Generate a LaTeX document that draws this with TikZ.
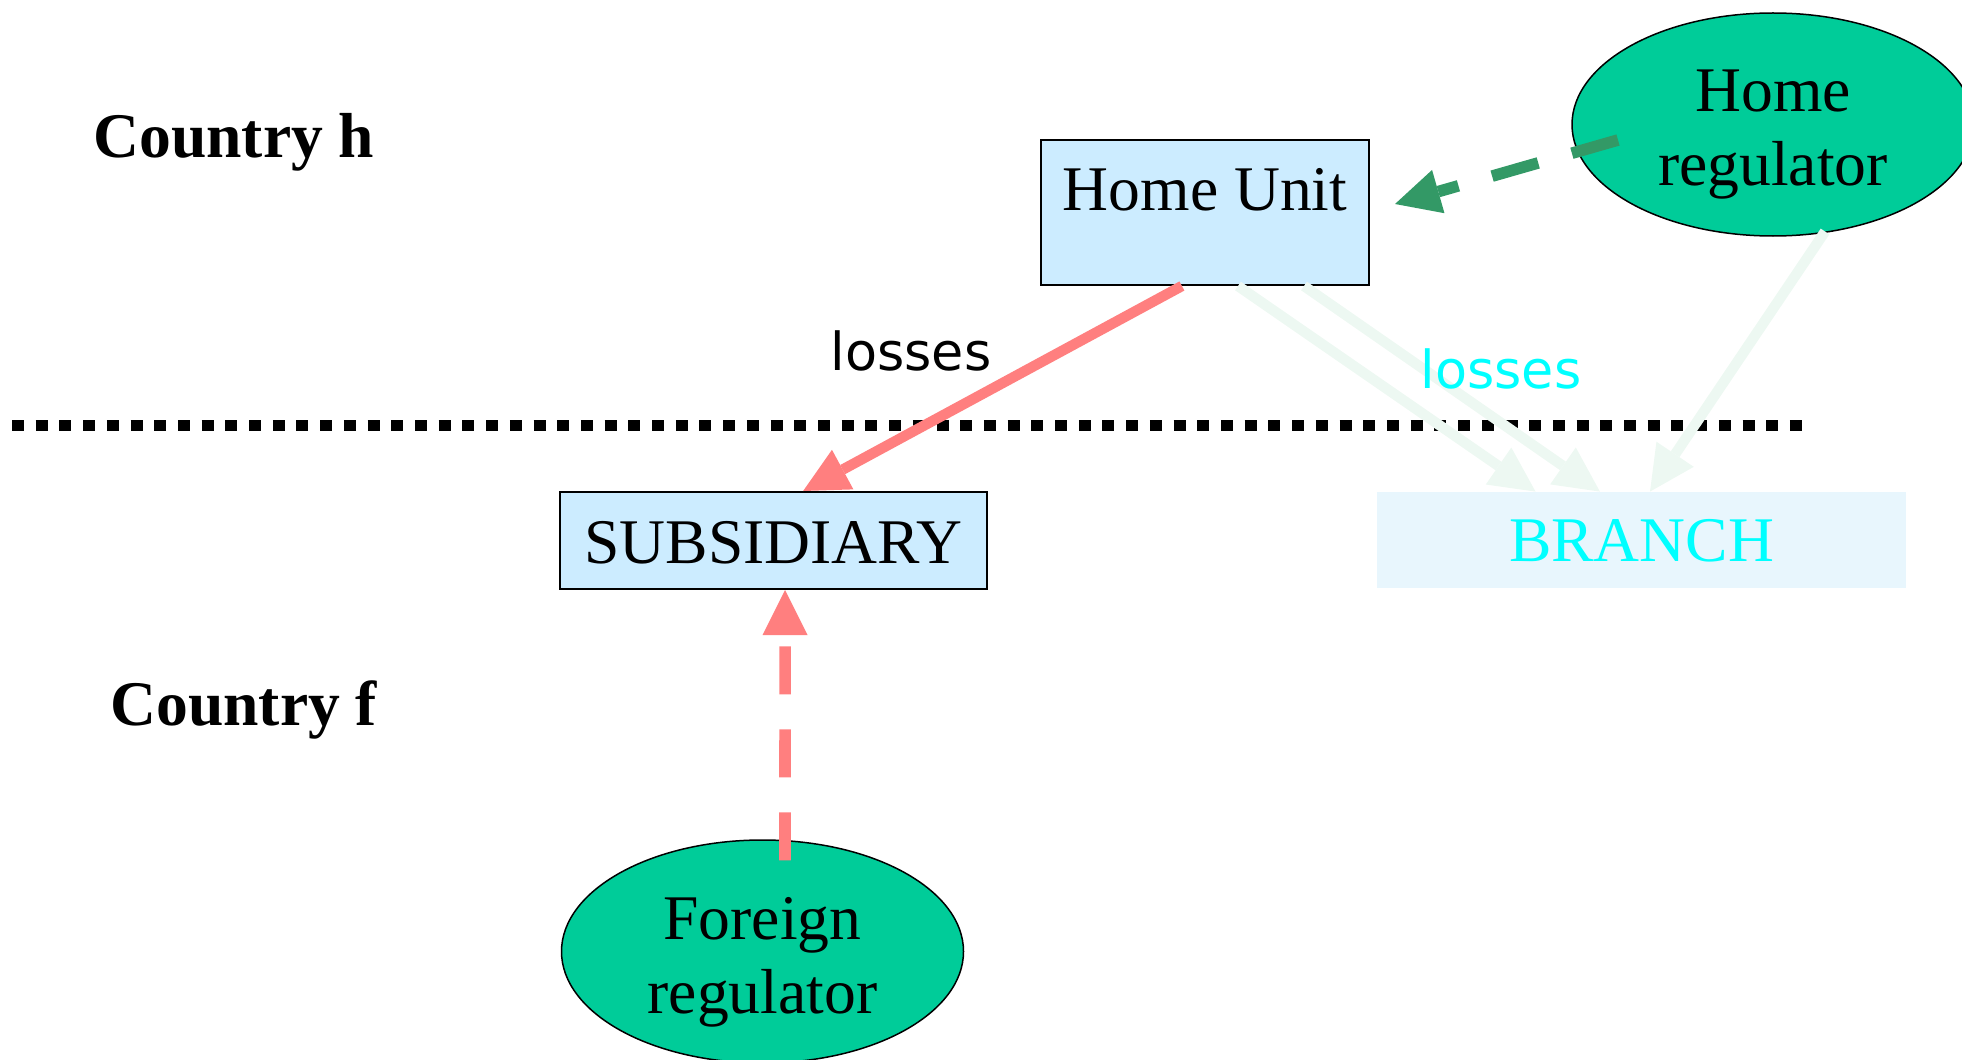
\documentclass[tikz,border=0pt]{standalone}
\usepackage{fontspec}
\setmainfont{Liberation Serif}
\newfontfamily\labelfont{DejaVu Sans}
\usetikzlibrary{arrows.meta,shapes.geometric,calc}

\definecolor{lossred}{HTML}{FF7F7F}
\definecolor{regfill}{HTML}{00CC99}
\definecolor{unitfill}{HTML}{CCECFF}
\definecolor{branchfill}{HTML}{E8F6FD}
\definecolor{faintline}{HTML}{EDF8F2}
\definecolor{supgreen}{HTML}{339966}
\definecolor{aqua}{HTML}{00FFFF}

\tikzset{
  bigfont/.style={font=\fontsize{31.8}{37}\selectfont},
  unitbox/.style={bigfont, draw=black, line width=1pt, fill=unitfill, inner sep=0pt},
  regulator/.style={bigfont, ellipse, draw=black, line width=0.75pt, fill=regfill,
    minimum width=201pt, minimum height=111.5pt, inner sep=0pt,
    text height=30pt, text depth=42.5pt},
  country/.style={font=\fontsize{31.8}{37}\selectfont\bfseries, anchor=base west, inner sep=0pt},
  losslabel/.style={font=\labelfont\fontsize{26.2}{30}\selectfont, anchor=base, inner sep=0pt},
  tip/.style={-{Triangle[length=22.5pt,width=22.5pt,line width=0pt]}},
  solidflow/.style={tip, line width=5.2pt},
  dashflow/.style={tip, line width=5.8pt, dash pattern=on 24pt off 17.5pt},
  separator/.style={line width=5.8pt, dash pattern=on 6pt off 5.853pt}
}

\newcommand{\twolines}[2]{\makebox[0pt]{\begin{tabular}[t]{@{}c@{}}#1\\#2\end{tabular}}}

\begin{document}
\begin{tikzpicture}[x=0.5pt,y=-0.5pt]
  \useasboundingbox (0,0) rectangle (1962,1059);

  % entities
  \node[unitbox, minimum width=164pt, text height=35.5pt, text depth=37pt]
    (hu) at (1205,212.5) {Home Unit};
  \node[unitbox, minimum width=213.5pt, text height=35.5pt, text depth=13pt]
    (sub) at (773.5,540.5) {SUBSIDIARY};
  \node[bigfont, fill=branchfill, text=aqua, inner sep=0pt,
        minimum width=264.5pt, text height=34.5pt, text depth=13.5pt]
    (br) at (1641.5,540) {BRANCH};
  \node[regulator] (hr) at (1773,124.5) {\twolines{Home}{regulator}};
  \node[regulator] (fr) at (762.5,951.5) {\twolines{Foreign}{regulator}};

  % country labels
  \node[country] (ch) at (93,158) {Country h};
  \node[country] (cf) at (110,725) {Country f};

  % border between the two countries
  \coordinate (sepL) at (12,425.3);
  \coordinate (sepR) at (1802,425.3);
  \draw[separator] (sepL) -- (sepR);

  % loss transfers
  \draw[solidflow, lossred]
    ($(hu.south west)!0.43!(hu.south east)$) -- ($(sub.north west)!0.569!(sub.north east)$);
  \node[losslabel] (l1) at (911,370) {losses};

  \draw[solidflow, faintline]
    ($(hu.south west)!0.60!(hu.south east)$) -- ($(br.north west)!0.30!(br.north east)$);
  \draw[solidflow, faintline]
    ($(hu.south west)!0.80!(hu.south east)$) -- ($(br.north west)!0.4215!(br.north east)$);
  \draw[solidflow, faintline]
    ($(hr.center)+(52,107)$) -- ($(br.north west)!0.516!(br.north east)$);
  \node[losslabel, text=aqua] (l2) at (1501,388) {losses};

  % supervision
  \draw[dashflow, supgreen]
    ($(hr.center)+(-155,15.5)$) -- ($(hu.east)+(25,-8.5)$);
  \draw[dashflow, lossred]
    ($(fr.north)+(22.5,21)$) -- ($(sub.south west)!0.527!(sub.south east)$);
\end{tikzpicture}
\end{document}
